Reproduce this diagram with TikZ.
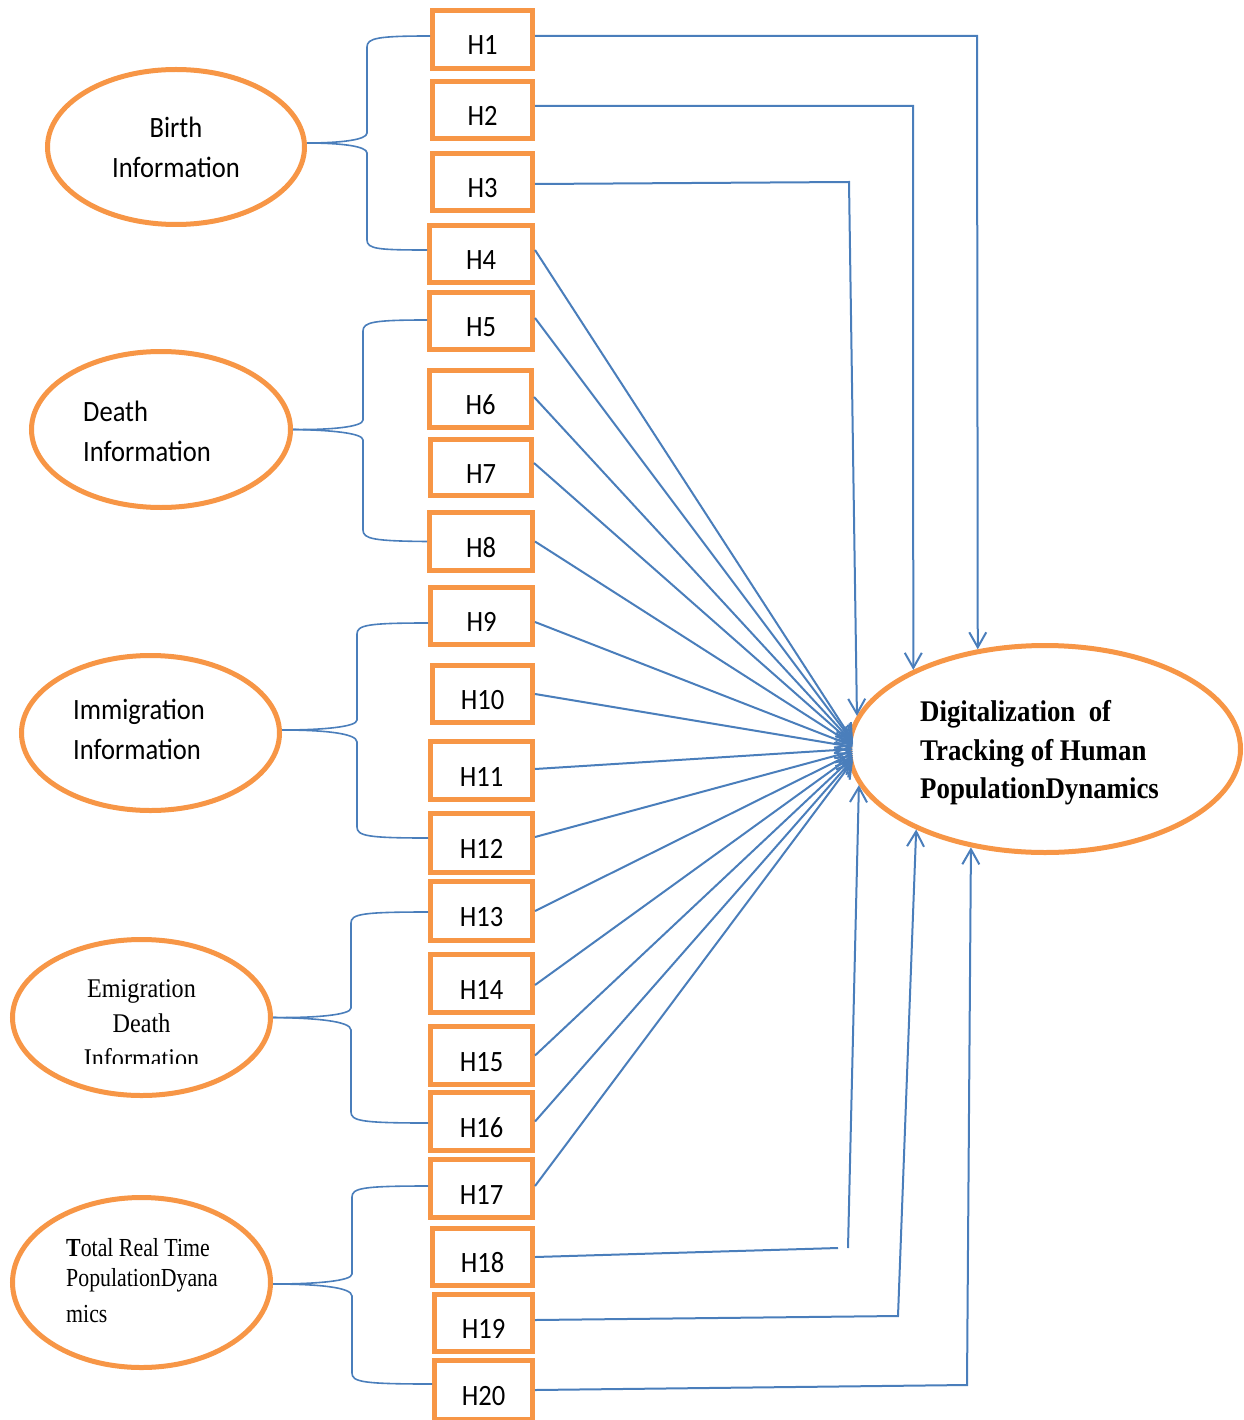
\documentclass[tikz,border=0pt]{standalone}
\usepackage{fontspec}
\setmainfont{Liberation Serif}
\newfontfamily\calib[FakeStretch=0.9]{Carlito}
\newfontfamily\serA[FakeStretch=0.895]{Liberation Serif}
\newfontfamily\serB[FakeStretch=0.84]{Liberation Serif}
\usetikzlibrary{shapes.geometric,arrows.meta,calc}
\definecolor{orng}{HTML}{F79646}
\definecolor{blu}{HTML}{4A7EBB}
\tikzset{
  hbox/.style={draw=orng, line width=5pt, fill=white, inner sep=0pt,
    text height=31pt, text depth=0pt, font=\calib\fontsize{29.5}{35}\selectfont},
  ell/.style={draw=orng, line width=5pt, fill=white, ellipse, inner sep=0pt},
  etext/.style={inner sep=0pt},
  lnk/.style={draw=blu, line width=2pt},
  arr/.style={lnk, -{Straight Barb[length=15pt,width=17pt]}},
  bracel/.style={draw=blu, line width=1.6pt},
}
\begin{document}
\begin{tikzpicture}[x=1pt,y=-1pt]
\useasboundingbox (0,0) rectangle (1243,1420);

% ellipses
\node[ell, minimum width=257pt, minimum height=155pt] (birth) at (176,147) {};
\node[ell, minimum width=259pt, minimum height=156pt] (death) at (161,429.5) {};
\node[ell, minimum width=258pt, minimum height=155pt] (immi) at (150.5,733) {};
\node[ell, minimum width=258pt, minimum height=156pt] (emig) at (141.5,1017.5) {};
\node[ell, minimum width=258pt, minimum height=170pt] (total) at (141.5,1282.5) {};
\node[ell, minimum width=391pt, minimum height=207pt] (big) at (1045,749) {};

% ellipse texts
\node[etext, align=center, font=\calib\fontsize{29.5}{40}\selectfont] (birthT) at (176,147.5) {Birth\\Information};
\node[etext, anchor=west, align=left, font=\calib\fontsize{29.5}{40}\selectfont] (deathT) at (83,431.5) {Death\\Information};
\node[etext, anchor=west, align=left, font=\calib\fontsize{29.5}{40}\selectfont] (immiT) at (73,729) {Immigration\\Information};
\begin{scope}
  \clip (0,900) rectangle (300,1063.5);
  \node[etext, align=center, font=\serA\fontsize{27}{35}\selectfont] (emigT) at (141.5,1024) {Emigration\\Death\\Information};
\end{scope}
\node[etext, anchor=west, align=left, font=\serB\fontsize{26}{30}\selectfont] (totalT) at (66,1281) {\textbf{T}otal Real Time\\PopulationDyana\\[6pt]mics};
\node[etext, anchor=west, align=left, font=\serA\bfseries\fontsize{30}{38.5}\selectfont] (bigT) at (920,753) {Digitalization\ \ of\\Tracking of Human\\PopulationDynamics};

% hypothesis boxes
\foreach \n/\x/\y/\w/\h in {1/482.5/39.5/100/58, 2/482.5/110/100/57, 3/482.5/182/100/57,
  4/481/254/103/57, 5/481/321/103/57, 6/480.5/399/102/57, 7/481/467.5/101/56,
  8/481/541.5/103/58, 9/481.5/616/102/57, 10/482.5/694/100/57, 11/481.5/770.5/102/58,
  12/481.5/843/102/59, 13/481.5/911/102/59, 14/481.5/983.5/102/58, 15/481.5/1055.5/102/58,
  16/481.5/1121.5/102/58, 17/481.5/1188.5/102/58, 18/482.5/1257/100/57,
  19/483.5/1323/98/57, 20/483.5/1390/98/59}
  \node[hbox, minimum width=\w pt, minimum height=\h pt] (H\n) at (\x,\y) {H\n};

% braces
\draw[bracel] ([yshift=4pt]birth.east) .. controls (340,143) and (367,140) .. (367,133) -- (367,47)
   .. controls (367,38) and (378,36) .. ([yshift=3.5pt]H1.west);
\draw[bracel] ([yshift=4pt]birth.east) .. controls (340,143) and (367,146) .. (367,153) -- (367,240)
   .. controls (367,249) and (378,250) .. ([yshift=4pt]H4.west);

\draw[bracel] (death.east) .. controls (330,430) and (363,427) .. (363,420) -- (363,331)
   .. controls (363,322) and (374,320) .. ([yshift=1pt]H5.west);
\draw[bracel] (death.east) .. controls (330,430) and (363,433) .. (363,440) -- (363,530)
   .. controls (363,539) and (374,541) .. (H8.west);

\draw[bracel] ([yshift=3pt]immi.east) .. controls (322,730) and (357,727) .. (357,720) -- (357,634)
   .. controls (357,625) and (368,623) .. ([yshift=-7pt]H9.west);
\draw[bracel] ([yshift=3pt]immi.east) .. controls (322,730) and (357,733) .. (357,742) -- (357,827)
   .. controls (357,836) and (368,838) .. ([yshift=5pt]H12.west);

\draw[bracel] (emig.east) .. controls (315,1018) and (351,1015) .. (351,1008) -- (351,923)
   .. controls (351,914) and (362,912) .. ([yshift=-1pt]H13.west);
\draw[bracel] (emig.east) .. controls (315,1018) and (351,1021) .. (351,1030) -- (351,1112)
   .. controls (351,1121) and (362,1123) .. ([yshift=-1.5pt]H16.west);

\draw[bracel] ([yshift=-1.5pt]total.east) .. controls (316,1284) and (352,1281) .. (352,1274) -- (352,1197)
   .. controls (352,1188) and (363,1186) .. ([yshift=2.5pt]H17.west);
\draw[bracel] ([yshift=-1.5pt]total.east) .. controls (316,1284) and (352,1287) .. (352,1296) -- (352,1373)
   .. controls (352,1382) and (363,1384) .. ([yshift=6pt]H20.west);

% converging arrows (tips spread slightly along the left of the big ellipse)
\foreach \n/\s/\t in {4/4/8, 5/3/7, 6/2/6, 7/4.5/5, 8/0/4, 9/-6/3, 10/0/2, 11/1.5/0,
  12/6/-2, 13/0/-4, 14/-1.5/-6, 15/0/-8, 16/0/-10, 17/2.5/-12}
  \draw[arr] ([yshift=\s pt]H\n.east) -- ([xshift=6pt,yshift=\t pt]big.west);

% elbow arrows
\coordinate (b1) at (977,36);
\coordinate (b2) at (913,106);
\coordinate (b3) at (849,182);
\coordinate (b18a) at (838,1248);
\coordinate (b18b) at (848,1248);
\coordinate (b19) at (898,1316);
\coordinate (b20) at (967,1385);
\draw[arr] ([yshift=3.5pt]H1.east) -- (b1) -- (big.124.5);
\draw[arr] ([yshift=4pt]H2.east) -- (b2) -- (big.149.1);
\draw[arr] ([yshift=-2pt]H3.east) -- (b3) -- (big.170.6);
\draw[lnk] (H18.east) -- (b18a);
\draw[arr] (b18b) -- (big.191.5);
\draw[arr] ([yshift=3pt]H19.east) -- (b19) -- (big.212);
\draw[arr] (H20.east) -- (b20) -- (big.233.9);
\end{tikzpicture}
\end{document}
